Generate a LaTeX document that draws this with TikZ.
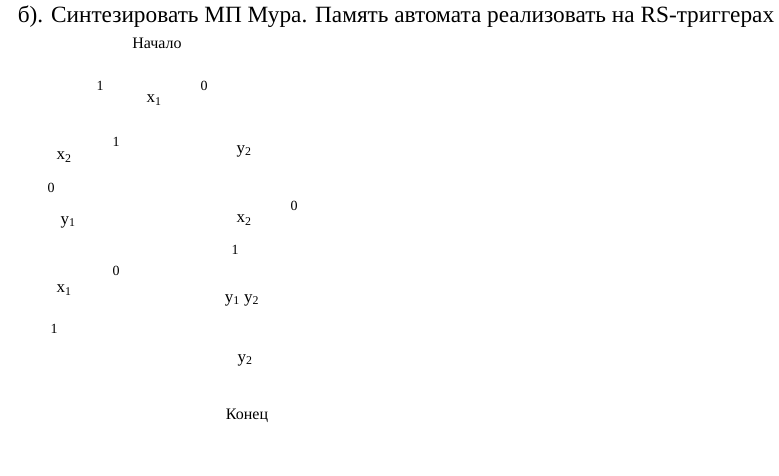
\documentclass[tikz,border=0pt]{standalone}
\usepackage{fontspec}
\setmainfont{Liberation Serif}[Ligatures=TeX]
\usetikzlibrary{positioning}
\tikzset{
  ttl/.style={font=\fontsize{23.3}{27}\selectfont},
  term/.style={font=\fontsize{16}{19}\selectfont},
  var/.style={font=\fontsize{17}{20}\selectfont},
  bit/.style={font=\fontsize{14}{17}\selectfont}
}
\begin{document}
\begin{tikzpicture}[x=1pt,y=-1pt,inner sep=0pt]
\useasboundingbox (0,0) rectangle (779,475);
\node[ttl] (hd) at (396,17) {б). Синтезировать МП Мура. Память автомата реализовать на RS-триггерах};
\node[term] (beg) at (157,43) {Начало};
\node[term] (fin) at (247,416) {Конец};
% conditions and outputs
\node[var] (c1) at (154,100) {x\textsubscript{1}};
\node[var] (c2) at (64,157) {x\textsubscript{2}};
\node[var] (c3) at (244,220) {x\textsubscript{2}};
\node[var] (c4) at (64,290) {x\textsubscript{1}};
\node[var] (o1) at (244,151) {y\textsubscript{2}};
\node[var] (o2) at (68,222) {y\textsubscript{1}};
\node[var] (o3) at (242,300) {y\textsubscript{1} y\textsubscript{2}};
\node[var] (o4) at (245,360) {y\textsubscript{2}};
% branch marks
\node[bit] (b1) at (100,86) {1};
\node[bit] (b2) at (204,86) {0};
\node[bit] (b3) at (116,142) {1};
\node[bit] (b4) at (51,188) {0};
\node[bit] (b5) at (294,206) {0};
\node[bit] (b6) at (235,250) {1};
\node[bit] (b7) at (116,271) {0};
\node[bit] (b8) at (54,329) {1};
\end{tikzpicture}
\end{document}
